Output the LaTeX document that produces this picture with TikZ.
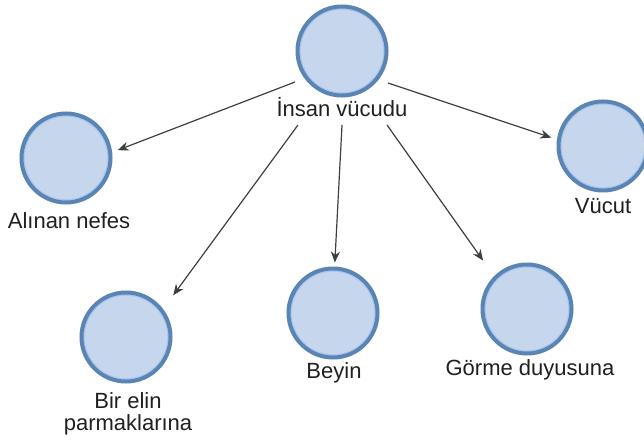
\documentclass[tikz,border=0pt]{standalone}
\usepackage{fontspec}
\setmainfont{Liberation Sans}
\usetikzlibrary{arrows.meta}
\definecolor{cfill}{HTML}{C6D6EC}
\definecolor{cline}{HTML}{5A84B4}
\definecolor{crim}{HTML}{A9C7EE}
\definecolor{carrow}{HTML}{3A423D}
\definecolor{ctext}{HTML}{202020}
\begin{document}
\begin{tikzpicture}[x=1pt,y=-1pt,
  concept/.style={circle, draw=cline, line width=4pt, fill=cfill,
    minimum size=89pt, inner sep=0pt,
    path picture={\draw[crim, line width=1.2pt] (path picture bounding box.center) circle (41.9pt);}},
  lbl/.style={font=\fontsize{22}{22}\selectfont, text=ctext, inner sep=0pt, align=center},
  arr/.style={draw=carrow, line width=1.2pt, -{Stealth[length=11pt,width=9pt,inset=3.5pt]}}]
\useasboundingbox[fill=white] (0,0) rectangle (644,441);

\node[concept] (top) at (342,51) {};
\node[concept] (alinan) at (66,158) {};
\node[concept] (vucut) at (603,146) {};
\node[concept] (birelin) at (126,337) {};
\node[concept] (beyin) at (333,313) {};
\node[concept] (gorme) at (527,309) {};

\node[lbl, anchor=base] (ltop) at (342,117) {İnsan vücudu};
\node[lbl, anchor=base] (lalinan) at (69,228) {Alınan nefes};
\node[lbl, anchor=base] (lvucut) at (603,213) {Vücut};
\node[lbl, anchor=north] (lbirelin) at (128,392) {Bir elin\\parmaklarına};
\node[lbl, anchor=base] (lbeyin) at (334,378) {Beyin};
\node[lbl, anchor=base] (lgorme) at (530,375) {Görme duyusuna};

\coordinate (sA) at (295,82);
\coordinate (sV) at (388,83);
\coordinate (sB) at (298,125);
\coordinate (sBe) at (342,125);
\coordinate (sG) at (387,125);

\draw[arr, shorten >=6pt] (sA) -- (alinan.7);
\draw[arr, shorten >=6pt] (sV) -- (vucut.172);
\draw[arr, shorten >=17pt] (sB) -- (birelin.37);
\draw[arr, shorten >=4pt] (sBe) -- (beyin.88);
\draw[arr, shorten >=19pt] (sG) -- (gorme.135);
\end{tikzpicture}
\end{document}
